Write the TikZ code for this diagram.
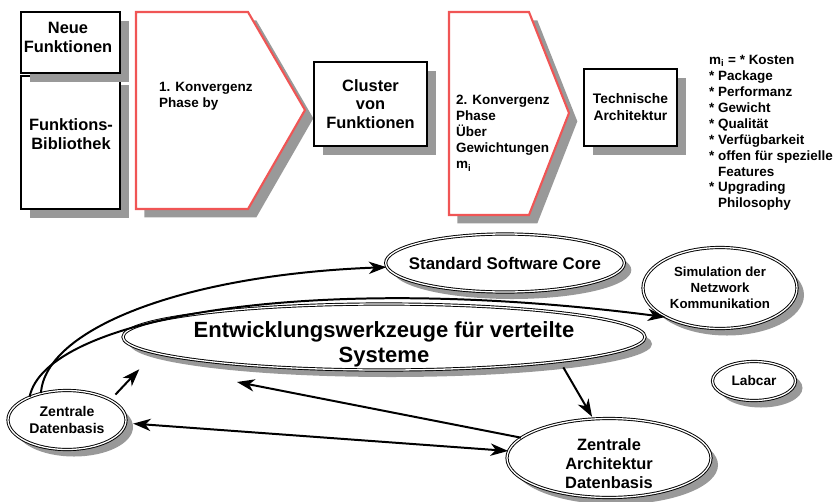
\documentclass[tikz,border=0pt]{standalone}
\usepackage{fontspec}
\setmainfont{Liberation Sans}
\usetikzlibrary{shapes.geometric,shadows,arrows.meta}
\definecolor{phasered}{RGB}{240,85,85}
\definecolor{shadowgray}{RGB}{153,153,153}

\begin{document}
\begin{tikzpicture}[x=0.03cm, y=-0.03cm,
    >={Stealth[length=15pt,width=10.5pt,inset=4.5pt]},
    every node/.style={inner sep=0pt, align=center},
    kasten/.style={rectangle, draw, line width=2.4pt, fill=white,
        drop shadow={shadow xshift=0.27cm, shadow yshift=-0.27cm, fill=shadowgray, opacity=1}},
    phase/.style={draw=phasered, line width=1.8pt, fill=white,
        drop shadow={shadow xshift=0.25cm, shadow yshift=-0.25cm, fill=shadowgray, opacity=1}},
    blase/.style={ellipse, draw, double, line width=0.8pt, double distance=1.1pt, fill=white,
        drop shadow={shadow xshift=0.21cm, shadow yshift=-0.21cm, fill=shadowgray, opacity=1}},
    pfeil/.style={->, line width=1.7pt},
    txtS/.style={font=\fontsize{11.5}{13.6}\selectfont\bfseries},
    txtM/.style={font=\fontsize{14}{16}\selectfont\bfseries},
    txtL/.style={font=\fontsize{18.8}{21}\selectfont\bfseries}]
    \useasboundingbox (0,0) rectangle (836,502);

    \node[kasten, minimum width=2.97cm, minimum height=3.99cm] (fb) at (70.5,142.5) {};
    \node[kasten, minimum width=2.97cm, minimum height=1.83cm] (nf) at (70.5,42.5) {};
    \node[txtM] (nftext) at (68,37.5) {Neue\\Funktionen};
    \node[txtM] (fbtext) at (71,134) {Funktions-\\Bibliothek};

    \draw[phase] (136,12) -- (248,12) -- (305,110) -- (248,209) -- (136,209) -- cycle;
    \node[txtS, anchor=west, align=left] (k1) at (159,96) {1. Konvergenz\\Phase by};

    \node[kasten, txtM, minimum width=3.39cm, minimum height=2.52cm] (cl) at (370.5,104) {Cluster\\von\\Funktionen};

    \draw[phase] (449,12) -- (529,12) -- (569,113) -- (529,215) -- (449,215) -- cycle;
    \node[txtS, anchor=west, align=left, font=\fontsize{11.5}{13.8}\selectfont\bfseries] (k2) at (456,133)
        {2. Konvergenz\\Phase\\Über\\Gewichtungen\\m\textsubscript{i}};

    \node[kasten, txtS, font=\fontsize{11.8}{14.5}\selectfont\bfseries,
        minimum width=2.79cm, minimum height=2.31cm] (ta) at (630.5,107.5) {Technische\\Architektur};

    \node[txtS, anchor=north west, align=left] (mi) at (709,55)
        {m\textsubscript{i} = * Kosten\\* Package\\* Performanz\\* Gewicht\\* Qualität\\* Verfügbarkeit\\
         * offen für spezielle\\\phantom{* }Features\\* Upgrading\\\phantom{* }Philosophy};

    \node[blase, txtM, font=\fontsize{14.4}{16}\selectfont\bfseries, inner xsep=-10pt,
        minimum width=7.08cm, minimum height=1.74cm] (ssc) at (505,263) {Standard Software Core};
    \node[blase, txtS, font=\fontsize{11.3}{13.5}\selectfont\bfseries,
        minimum width=4.62cm, minimum height=2.43cm] (sim) at (720,288)
        {Simulation der\\Netzwork\\Kommunikation};
    \node[blase, minimum width=15.66cm, minimum height=1.98cm,
        label={[txtL, name=ewtext, yshift=-6pt]center:{Entwicklungswerkzeuge für verteilte\\Systeme}}] (ew) at (384,337) {};
    \node[blase, txtS, font=\fontsize{12}{14.2}\selectfont\bfseries,
        minimum width=3.54cm, minimum height=1.77cm] (zd) at (67,420) {Zentrale\\Datenbasis};
    \node[blase, minimum width=6.12cm, minimum height=2.37cm,
        label={[txtM, name=zadtext, yshift=-5pt]center:{Zentrale\\Architektur\\Datenbasis}}] (zad) at (609,458) {};
    \node[blase, txtS, font=\fontsize{11.7}{13}\selectfont\bfseries,
        minimum width=2.49cm, minimum height=1.17cm] (lab) at (754,381) {Labcar};

    \coordinate (ewin) at ([shift={(-147,45)}]ew.center);

    \draw[pfeil] (zd.134) .. controls (45,330) and (180,275) .. (ssc.182);
    \draw[pfeil] (zd.148) .. controls (45,320) and (300,270) .. (sim.208.5);
    \draw[pfeil, shorten <=6pt, shorten >=19pt] (zd.25.8) -- (ew.184.6);
    \draw[pfeil] (zad.167.6) -- (ewin);
    \draw[pfeil, shorten <=5.6pt, shorten >=1.7pt] (ew.352.1) -- (zad.112.1);
    \draw[pfeil, <->, shorten <=6pt] (zd.357.7) -- (zad.176.7);
\end{tikzpicture}
\end{document}
